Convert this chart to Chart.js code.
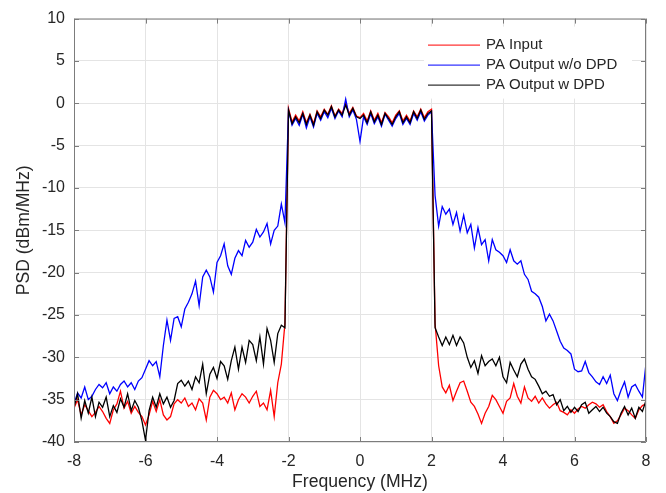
<!DOCTYPE html>
<html>
<head>
<meta charset="utf-8">
<script src="https://cdn.jsdelivr.net/npm/chart.js@4.4.1/dist/chart.umd.min.js"></script>
<style>
  html, body { margin: 0; padding: 0; background: #fff; }
  #wrap { width: 666px; height: 493px; }
</style>
</head>
<body>
<div id="wrap"><canvas id="psd" width="666" height="493"></canvas></div>
<script>
// frequency grid (MHz), read every 0.1 MHz off the plot
const FREQ_MHZ = [
  -8.0, -7.9, -7.8, -7.7, -7.6, -7.5, -7.4, -7.3, -7.2, -7.1,
  -7.0, -6.9, -6.8, -6.7, -6.6, -6.5, -6.4, -6.3, -6.2, -6.1,
  -6.0, -5.9, -5.8, -5.7, -5.6, -5.5, -5.4, -5.3, -5.2, -5.1,
  -5.0, -4.9, -4.8, -4.7, -4.6, -4.5, -4.4, -4.3, -4.2, -4.1,
  -4.0, -3.9, -3.8, -3.7, -3.6, -3.5, -3.4, -3.3, -3.2, -3.1,
  -3.0, -2.9, -2.8, -2.7, -2.6, -2.5, -2.4, -2.3, -2.2, -2.1,
  -2.0, -1.9, -1.8, -1.7, -1.6, -1.5, -1.4, -1.3, -1.2, -1.1,
  -1.0, -0.9, -0.8, -0.7, -0.6, -0.5, -0.4, -0.3, -0.2, -0.1,
  0.0, 0.1, 0.2, 0.3, 0.4, 0.5, 0.6, 0.7, 0.8, 0.9,
  1.0, 1.1, 1.2, 1.3, 1.4, 1.5, 1.6, 1.7, 1.8, 1.9,
  2.0,
  2.1, 2.2, 2.3, 2.4, 2.5, 2.6, 2.7, 2.8, 2.9, 3.0,
  3.1, 3.2, 3.3, 3.4, 3.5, 3.6, 3.7, 3.8, 3.9, 4.0,
  4.1, 4.2, 4.3, 4.4, 4.5, 4.6, 4.7, 4.8, 4.9, 5.0,
  5.1, 5.2, 5.3, 5.4, 5.5, 5.6, 5.7, 5.8, 5.9, 6.0,
  6.1, 6.2, 6.3, 6.4, 6.5, 6.6, 6.7, 6.8, 6.9, 7.0,
  7.1, 7.2, 7.3, 7.4, 7.5, 7.6, 7.7, 7.8, 7.9, 8.0
];

// PSD in dBm/MHz
const PA_INPUT = [
  -36.0, -35.0, -36.8, -35.6, -36.3, -37.0, -36.5, -35.8, -36.4, -37.2,
  -37.8, -36.2, -35.5, -34.0, -36.0, -35.2, -36.6, -35.8, -36.5, -37.0,
  -38.0, -36.8, -35.2, -36.4, -35.0, -36.8, -37.4, -37.0, -35.5, -35.0,
  -35.4, -34.8, -35.8, -35.4, -36.2, -34.9, -35.4, -37.4, -34.7, -33.9,
  -34.3, -35.0, -34.7, -35.4, -34.2, -36.2, -35.0, -34.3, -34.7, -35.4,
  -34.6, -34.0, -35.8, -35.4, -36.2, -33.9, -37.0, -33.0, -30.8, -26.0,
  -0.6, -2.2, -1.4, -2.1, -1.0, -2.3, -1.3, -2.4, -0.9, -1.6,
  -0.7, -1.3, -0.3, -1.5, -0.7, -1.2, 0.0, -1.2, -0.5, -1.5,
  -1.7, -1.2, -2.1, -0.9, -2.0, -1.2, -2.3, -1.1, -1.6, -2.3,
  -1.4, -0.9, -2.1, -1.4, -2.1, -0.9, -1.6, -0.7, -1.7, -1.0,
  -0.7,
  -26.0, -31.0, -33.5, -34.2, -33.3, -35.1, -34.0, -33.0, -32.8, -34.0,
  -35.3, -35.8, -36.7, -37.8, -36.6, -35.8, -34.5, -35.0, -35.8, -36.6,
  -35.2, -34.8, -33.1, -34.6, -35.4, -33.5, -34.8, -35.2, -34.6, -35.4,
  -34.8, -35.5, -36.0, -35.6, -35.3, -36.3, -36.5, -36.8, -36.2, -36.6,
  -36.1, -35.8, -36.0, -35.6, -35.3, -35.5, -35.9, -35.6, -36.4, -37.0,
  -37.8, -37.5, -36.8, -36.0, -36.3, -36.8, -37.2, -36.2, -35.7, -35.5
];

const PA_OUT_NO_DPD = [
  -35.5, -34.2, -34.8, -33.5, -35.0, -34.6, -33.8, -33.2, -33.6, -33.0,
  -34.3, -33.5, -34.0, -33.2, -32.8, -33.5, -33.0, -33.8, -32.8, -32.4,
  -31.4, -30.4, -31.0, -30.5, -32.3, -28.6, -25.6, -28.0, -25.4, -25.2,
  -26.4, -24.3, -23.5, -22.5, -21.0, -23.9, -20.5, -19.7, -20.5, -22.3,
  -18.8, -18.0, -16.6, -19.2, -20.2, -18.3, -17.4, -18.0, -16.2, -17.0,
  -16.4, -14.9, -15.8, -15.2, -14.2, -16.6, -15.0, -14.5, -11.9, -14.1,
  -0.9, -2.6, -1.8, -2.6, -1.3, -2.9, -1.6, -2.8, -1.2, -2.0,
  -1.0, -1.7, -0.6, -1.8, -0.9, -1.6, 0.5, -1.6, -0.8, -1.9,
  -4.5, -1.6, -2.5, -1.2, -2.4, -1.6, -2.7, -1.3, -2.0, -2.7,
  -1.8, -1.2, -2.5, -1.8, -2.5, -1.2, -2.0, -1.0, -2.1, -1.4,
  -1.0,
  -10.9, -14.5, -12.2, -13.1, -12.5, -14.3, -12.9, -15.1, -13.2, -15.3,
  -14.3, -17.1, -14.7, -16.7, -16.1, -18.6, -16.1, -17.3, -17.6, -18.0,
  -18.8, -17.3, -18.6, -19.0, -18.6, -20.2, -20.8, -22.2, -22.5, -22.9,
  -24.0, -25.7, -24.9, -25.7, -26.9, -28.1, -28.9, -29.2, -29.6, -31.4,
  -31.7, -31.6, -30.5, -31.8, -32.3, -32.9, -33.2, -32.3, -33.1, -32.1,
  -34.3, -35.1, -33.9, -32.9, -34.7, -33.5, -33.2, -34.0, -34.7, -30.7
];

const PA_OUT_DPD = [
  -35.9, -34.3, -37.2, -35.1, -36.6, -34.7, -37.0, -35.3, -35.9, -34.7,
  -37.0, -35.7, -36.5, -34.9, -35.9, -34.3, -36.3, -35.1, -35.9, -37.5,
  -39.8, -36.3, -34.7, -35.9, -34.3, -35.5, -34.7, -35.9, -35.1, -33.1,
  -32.7, -33.4, -32.8, -33.8, -32.3, -33.0, -30.8, -34.3, -32.0, -31.2,
  -32.5, -30.5, -31.0, -32.6, -30.4, -28.8, -31.4, -28.8, -30.6, -28.0,
  -28.5, -30.4, -27.6, -30.8, -26.6, -28.0, -30.6, -27.2, -26.2, -26.5,
  -0.8, -2.4, -1.6, -2.3, -1.2, -2.5, -1.4, -2.6, -1.0, -1.8,
  -0.8, -1.4, -0.4, -1.6, -0.8, -1.4, -0.2, -1.4, -0.6, -1.6,
  -1.8, -1.4, -2.3, -1.0, -2.2, -1.4, -2.5, -1.2, -1.8, -2.5,
  -1.6, -1.0, -2.3, -1.6, -2.3, -1.0, -1.8, -0.8, -1.9, -1.2,
  -0.9,
  -26.5, -27.6, -28.6, -27.6, -28.5, -27.4, -28.6, -27.6, -28.3, -30.0,
  -31.2, -30.4, -31.9, -29.8, -31.0, -30.5, -30.2, -31.0, -30.0, -32.3,
  -33.0, -30.6, -31.5, -32.3, -30.8, -30.2, -31.4, -32.3, -32.6, -33.4,
  -34.3, -34.0, -34.6, -34.4, -35.6, -35.0, -36.3, -35.8, -36.5, -35.9,
  -36.4, -35.6, -35.3, -36.6, -36.2, -35.8, -36.4, -35.9, -36.6, -37.0,
  -37.6, -37.8, -36.6, -35.8, -36.8, -36.0, -37.2, -35.9, -36.4, -35.1
];

const SERIES_LABELS = ['PA Input', 'PA Output w/o DPD', 'PA Output w DPD'];
const SERIES_COLORS = ['#ff0000', '#0000ff', '#000000'];

const X_MIN = -8, X_MAX = 8, X_STEP = 2;
const Y_MIN = -40, Y_MAX = 10, Y_STEP = 5;

const FONT = "'Liberation Sans', Arial, sans-serif";
const TEXT_COLOR = '#262626';

const toPoints = vals => FREQ_MHZ.map((f, i) => ({ x: f, y: vals[i] }));

// matlab style box with inward ticks on all four sides
const axesBox = {
    id: 'axesBox',
    afterDatasetsDraw(chart) {
        const { ctx, chartArea: a, scales: { x, y } } = chart;
        ctx.save();
        ctx.strokeStyle = '#7c7c7c';
        ctx.lineWidth = 1;
        ctx.beginPath();
        ctx.rect(a.left + 0.5, a.top + 0.5, a.right - a.left - 1, a.bottom - a.top - 1);
        x.ticks.forEach(t => {
            const px = Math.round(x.getPixelForValue(t.value)) + 0.5;
            ctx.moveTo(px, a.bottom); ctx.lineTo(px, a.bottom - 5);
            ctx.moveTo(px, a.top); ctx.lineTo(px, a.top + 5);
        });
        y.ticks.forEach(t => {
            const py = Math.round(y.getPixelForValue(t.value)) + 0.5;
            ctx.moveTo(a.left, py); ctx.lineTo(a.left + 5, py);
            ctx.moveTo(a.right, py); ctx.lineTo(a.right - 5, py);
        });
        ctx.stroke();
        ctx.restore();
    }
};

// legend sits inside the axes, top right
const insideLegend = {
    id: 'insideLegend',
    afterDatasetsDraw(chart) {
        const { ctx, chartArea: a } = chart;
        const x0 = a.right - 218;
        ctx.save();
        ctx.fillStyle = '#fff';
        ctx.fillRect(x0 - 4, a.top + 8, 208, 72);
        ctx.font = '15px ' + FONT;
        ctx.textBaseline = 'middle';
        ctx.textAlign = 'left';
        SERIES_LABELS.forEach((label, i) => {
            const yy = a.top + 26 + i * 20;
            ctx.strokeStyle = SERIES_COLORS[i];
            ctx.lineWidth = 1;
            ctx.beginPath();
            ctx.moveTo(x0, yy + 0.5);
            ctx.lineTo(x0 + 52, yy + 0.5);
            ctx.stroke();
            ctx.fillStyle = TEXT_COLOR;
            ctx.fillText(label, x0 + 58, yy);
        });
        ctx.restore();
    }
};

const seriesValues = [PA_INPUT, PA_OUT_NO_DPD, PA_OUT_DPD];
const drawOrder = [2, 1, 0]; // black ends up on top

new Chart(document.getElementById('psd'), {
    type: 'line',
    data: {
        datasets: seriesValues.map((vals, i) => ({
            label: SERIES_LABELS[i],
            data: toPoints(vals),
            borderColor: SERIES_COLORS[i],
            backgroundColor: SERIES_COLORS[i],
            borderWidth: 1.3,
            pointRadius: 0,
            tension: 0,
            fill: false,
            order: drawOrder[i]
        }))
    },
    options: {
        responsive: false,
        animation: false,
        layout: { padding: { top: 17, right: 20, left: 0, bottom: 0 } },
        plugins: {
            legend: { display: false },
            tooltip: { enabled: false }
        },
        scales: {
            x: {
                type: 'linear',
                min: X_MIN,
                max: X_MAX,
                afterFit: s => { s.height = 51; },
                border: { display: false },
                grid: { color: '#e4e4e4', drawTicks: false },
                ticks: {
                    stepSize: X_STEP,
                    padding: 10,
                    color: TEXT_COLOR,
                    font: { family: FONT, size: 16 }
                },
                title: {
                    display: true,
                    text: 'Frequency (MHz)',
                    color: TEXT_COLOR,
                    font: { family: FONT, size: 17.6 },
                    padding: { top: 0, bottom: 0 }
                }
            },
            y: {
                min: Y_MIN,
                max: Y_MAX,
                afterFit: s => { s.width = 74; },
                border: { display: false },
                grid: { color: '#e4e4e4', drawTicks: false },
                ticks: {
                    stepSize: Y_STEP,
                    padding: 9,
                    color: TEXT_COLOR,
                    font: { family: FONT, size: 16 }
                },
                title: {
                    display: true,
                    text: 'PSD (dBm/MHz)',
                    color: TEXT_COLOR,
                    font: { family: FONT, size: 17.6 },
                    padding: { top: 14, bottom: 0 }
                }
            }
        }
    },
    plugins: [axesBox, insideLegend]
});
</script>
</body>
</html>
